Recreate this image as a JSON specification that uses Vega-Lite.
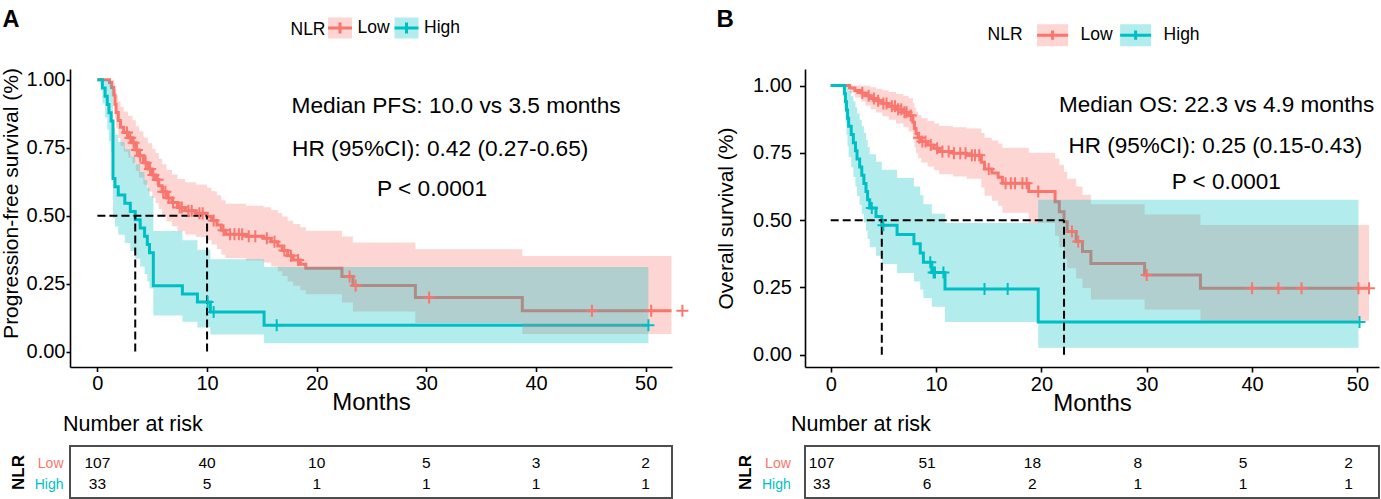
{
  "$schema": "https://vega.github.io/schema/vega-lite/v6.json",
  "background": "white",
  "padding": {"left": 0, "top": 7, "right": 0, "bottom": 0},
  "bounds": "flush",
  "columns": 2,
  "spacing": {"row": 79, "column": 133},
  "resolve": {"scale": {"x": "independent", "y": "independent", "color": "independent", "fill": "independent"}, "legend": {"color": "independent"}},
  "config": {
    "view": {"stroke": null},
    "font": "Liberation Sans",
    "axis": {"grid": false, "labelColor": "black", "titleColor": "black", "domainColor": "black", "tickColor": "black", "titleFontWeight": "normal", "labelFont": "Liberation Sans", "titleFont": "Liberation Sans", "domainWidth": 1.6, "tickWidth": 1.6, "labelFlush": false},
    "text": {"font": "Liberation Sans"},
    "title": {"font": "Liberation Sans", "color": "black"}
  },
  "datasets": {
    "kmA": [
      {"g":"Low","t":0,"s":1,"lo":1,"hi":1},{"g":"Low","t":1.1,"s":0.99,"lo":0.9714,"hi":1},{"g":"Low","t":1.3,"s":0.972,"lo":0.9414,"hi":1},{"g":"Low","t":1.5,"s":0.944,"lo":0.9017,"hi":0.9883},{"g":"Low","t":1.6,"s":0.91,"lo":0.8577,"hi":0.9655},{"g":"Low","t":1.7,"s":0.88,"lo":0.821,"hi":0.9432},{"g":"Low","t":1.9,"s":0.85,"lo":0.7856,"hi":0.9197},{"g":"Low","t":2.1,"s":0.825,"lo":0.7567,"hi":0.8994},{"g":"Low","t":2.4,"s":0.806,"lo":0.7352,"hi":0.8837},{"g":"Low","t":2.8,"s":0.787,"lo":0.7138,"hi":0.8676},{"g":"Low","t":3.2,"s":0.768,"lo":0.6927,"hi":0.8514},{"g":"Low","t":3.5,"s":0.742,"lo":0.6642,"hi":0.8289},{"g":"Low","t":3.8,"s":0.72,"lo":0.6403,"hi":0.8096},{"g":"Low","t":4.2,"s":0.695,"lo":0.6135,"hi":0.7873},{"g":"Low","t":4.6,"s":0.672,"lo":0.589,"hi":0.7666},{"g":"Low","t":5.0,"s":0.65,"lo":0.5659,"hi":0.7466},{"g":"Low","t":5.3,"s":0.632,"lo":0.547,"hi":0.7302},{"g":"Low","t":5.6,"s":0.61,"lo":0.5242,"hi":0.7098},{"g":"Low","t":5.9,"s":0.588,"lo":0.5016,"hi":0.6893},{"g":"Low","t":6.3,"s":0.565,"lo":0.4782,"hi":0.6676},{"g":"Low","t":6.8,"s":0.548,"lo":0.4609,"hi":0.6515},{"g":"Low","t":7.3,"s":0.53,"lo":0.4427,"hi":0.6345},{"g":"Low","t":8.0,"s":0.518,"lo":0.4306,"hi":0.6231},{"g":"Low","t":9.0,"s":0.509,"lo":0.4215,"hi":0.6147},{"g":"Low","t":10.0,"s":0.497,"lo":0.4091,"hi":0.6038},{"g":"Low","t":10.4,"s":0.482,"lo":0.3938,"hi":0.59},{"g":"Low","t":10.9,"s":0.466,"lo":0.3775,"hi":0.5753},{"g":"Low","t":11.3,"s":0.446,"lo":0.3573,"hi":0.5568},{"g":"Low","t":11.7,"s":0.432,"lo":0.3432,"hi":0.5437},{"g":"Low","t":13.55,"s":0.424,"lo":0.335,"hi":0.5367},{"g":"Low","t":15.15,"s":0.417,"lo":0.3274,"hi":0.5311},{"g":"Low","t":15.85,"s":0.404,"lo":0.3132,"hi":0.5212},{"g":"Low","t":16.45,"s":0.388,"lo":0.2956,"hi":0.5093},{"g":"Low","t":16.85,"s":0.372,"lo":0.2783,"hi":0.4972},{"g":"Low","t":17.35,"s":0.352,"lo":0.2573,"hi":0.4816},{"g":"Low","t":17.85,"s":0.337,"lo":0.2418,"hi":0.4697},{"g":"Low","t":18.5,"s":0.321,"lo":0.2255,"hi":0.4569},{"g":"Low","t":19.0,"s":0.306,"lo":0.2105,"hi":0.4448},{"g":"Low","t":22.3,"s":0.276,"lo":0.1801,"hi":0.4231},{"g":"Low","t":23.3,"s":0.243,"lo":0.1472,"hi":0.4011},{"g":"Low","t":29.0,"s":0.199,"lo":0.1052,"hi":0.3765},{"g":"Low","t":38.75,"s":0.15,"lo":0.064,"hi":0.3518},{"g":"Low","t":52.35,"s":0.15,"lo":0.064,"hi":0.3518},
      {"g":"High","t":0,"s":1,"lo":1,"hi":1},{"g":"High","t":0.45,"s":0.9697,"lo":0.9129,"hi":1},{"g":"High","t":0.7,"s":0.9394,"lo":0.8614,"hi":1},{"g":"High","t":0.9,"s":0.9091,"lo":0.8161,"hi":1},{"g":"High","t":1.05,"s":0.8788,"lo":0.7742,"hi":0.9975},{"g":"High","t":1.25,"s":0.8485,"lo":0.7346,"hi":0.9801},{"g":"High","t":1.42,"s":0.6364,"lo":0.4918,"hi":0.8235},{"g":"High","t":1.6,"s":0.6061,"lo":0.4603,"hi":0.798},{"g":"High","t":1.9,"s":0.5758,"lo":0.4296,"hi":0.7717},{"g":"High","t":2.5,"s":0.5455,"lo":0.3995,"hi":0.7448},{"g":"High","t":3.0,"s":0.5152,"lo":0.37,"hi":0.7173},{"g":"High","t":3.45,"s":0.4848,"lo":0.3411,"hi":0.6892},{"g":"High","t":3.9,"s":0.4545,"lo":0.3128,"hi":0.6606},{"g":"High","t":4.3,"s":0.4242,"lo":0.2851,"hi":0.6313},{"g":"High","t":4.55,"s":0.3939,"lo":0.258,"hi":0.6015},{"g":"High","t":4.75,"s":0.3636,"lo":0.2316,"hi":0.571},{"g":"High","t":5.1,"s":0.2424,"lo":0.1326,"hi":0.4431},{"g":"High","t":7.75,"s":0.2121,"lo":0.1099,"hi":0.4094},{"g":"High","t":9.12,"s":0.1818,"lo":0.0882,"hi":0.3749},{"g":"High","t":10.3,"s":0.1455,"lo":0.0624,"hi":0.3391},{"g":"High","t":15.2,"s":0.097,"lo":0.0303,"hi":0.3108},{"g":"High","t":50.25,"s":0.097,"lo":0.0303,"hi":0.3108}
    ],
    "censA": [
      {"g":"Low","t":2.7,"s":0.806},{"g":"Low","t":3.0,"s":0.787},{"g":"Low","t":3.3,"s":0.768},{"g":"Low","t":3.6,"s":0.742},{"g":"Low","t":3.9,"s":0.72},{"g":"Low","t":4.4,"s":0.695},{"g":"Low","t":4.8,"s":0.672},{"g":"Low","t":5.1,"s":0.65},{"g":"Low","t":5.5,"s":0.632},{"g":"Low","t":6.0,"s":0.588},{"g":"Low","t":6.2,"s":0.588},{"g":"Low","t":6.5,"s":0.565},{"g":"Low","t":6.9,"s":0.548},{"g":"Low","t":7.5,"s":0.53},{"g":"Low","t":7.7,"s":0.53},{"g":"Low","t":8.3,"s":0.518},{"g":"Low","t":8.6,"s":0.518},{"g":"Low","t":9.3,"s":0.509},{"g":"Low","t":9.6,"s":0.509},{"g":"Low","t":10.6,"s":0.482},{"g":"Low","t":11.5,"s":0.446},{"g":"Low","t":12.1,"s":0.432},{"g":"Low","t":12.5,"s":0.432},{"g":"Low","t":12.9,"s":0.432},{"g":"Low","t":13.2,"s":0.432},{"g":"Low","t":13.8,"s":0.424},{"g":"Low","t":14.4,"s":0.424},{"g":"Low","t":15.45,"s":0.417},{"g":"Low","t":16.15,"s":0.404},{"g":"Low","t":17.05,"s":0.372},{"g":"Low","t":17.65,"s":0.352},{"g":"Low","t":18.3,"s":0.337},{"g":"Low","t":23.0,"s":0.276},{"g":"Low","t":23.55,"s":0.243},{"g":"Low","t":30.25,"s":0.199},{"g":"Low","t":45.1,"s":0.15},{"g":"Low","t":50.5,"s":0.15},{"g":"Low","t":53.35,"s":0.15},
      {"g":"High","t":10.05,"s":0.1818},{"g":"High","t":10.6,"s":0.1455},{"g":"High","t":16.35,"s":0.097},{"g":"High","t":50.25,"s":0.097}
    ],
    "medA": [
      {"t":0,"s":0.5,"t2":10.0,"s2":0.5},{"t":3.45,"s":0,"t2":3.45,"s2":0.5},{"t":10.0,"s":0,"t2":10.0,"s2":0.5}
    ],
    "annA": [
      {"t":17.7,"s":0.877,"label":"Median PFS: 10.0 vs 3.5 months"},{"t":17.75,"s":0.718,"label":"HR (95%CI): 0.42 (0.27-0.65)"},{"t":25.5,"s":0.5705,"label":"P < 0.0001"}
    ],
    "riskA": [
      {"g":"Low","t":0,"n":107},{"g":"Low","t":10,"n":40},{"g":"Low","t":20,"n":10},{"g":"Low","t":30,"n":5},{"g":"Low","t":40,"n":3},{"g":"Low","t":50,"n":2},
      {"g":"High","t":0,"n":33},{"g":"High","t":10,"n":5},{"g":"High","t":20,"n":1},{"g":"High","t":30,"n":1},{"g":"High","t":40,"n":1},{"g":"High","t":50,"n":1}
    ],
    "kmB": [
      {"g":"Low","t":0,"s":1,"lo":1,"hi":1},{"g":"Low","t":1.8,"s":0.991,"lo":0.9729,"hi":1},{"g":"Low","t":2.3,"s":0.981,"lo":0.9552,"hi":1},{"g":"Low","t":2.9,"s":0.972,"lo":0.941,"hi":1},{"g":"Low","t":3.3,"s":0.962,"lo":0.9262,"hi":0.9992},{"g":"Low","t":3.8,"s":0.952,"lo":0.9121,"hi":0.9937},{"g":"Low","t":4.3,"s":0.943,"lo":0.8997,"hi":0.9884},{"g":"Low","t":4.9,"s":0.933,"lo":0.8863,"hi":0.9822},{"g":"Low","t":5.5,"s":0.923,"lo":0.8731,"hi":0.9757},{"g":"Low","t":6.2,"s":0.912,"lo":0.8588,"hi":0.9685},{"g":"Low","t":6.9,"s":0.901,"lo":0.8447,"hi":0.961},{"g":"Low","t":7.4,"s":0.889,"lo":0.8296,"hi":0.9527},{"g":"Low","t":7.8,"s":0.864,"lo":0.7987,"hi":0.9346},{"g":"Low","t":7.95,"s":0.84,"lo":0.7699,"hi":0.9165},{"g":"Low","t":8.1,"s":0.822,"lo":0.7487,"hi":0.9025},{"g":"Low","t":8.3,"s":0.806,"lo":0.7301,"hi":0.8898},{"g":"Low","t":8.6,"s":0.792,"lo":0.714,"hi":0.8785},{"g":"Low","t":9.2,"s":0.779,"lo":0.6989,"hi":0.8682},{"g":"Low","t":9.8,"s":0.767,"lo":0.6849,"hi":0.859},{"g":"Low","t":10.3,"s":0.755,"lo":0.6706,"hi":0.85},{"g":"Low","t":11.6,"s":0.748,"lo":0.6621,"hi":0.8451},{"g":"Low","t":12.9,"s":0.741,"lo":0.6534,"hi":0.8403},{"g":"Low","t":14.3,"s":0.715,"lo":0.621,"hi":0.8232},{"g":"Low","t":14.6,"s":0.69,"lo":0.5905,"hi":0.8063},{"g":"Low","t":15.3,"s":0.675,"lo":0.5723,"hi":0.7961},{"g":"Low","t":15.9,"s":0.659,"lo":0.5532,"hi":0.785},{"g":"Low","t":16.3,"s":0.637,"lo":0.5274,"hi":0.7693},{"g":"Low","t":18.8,"s":0.606,"lo":0.4894,"hi":0.7504},{"g":"Low","t":21.3,"s":0.568,"lo":0.4425,"hi":0.729},{"g":"Low","t":21.7,"s":0.531,"lo":0.3996,"hi":0.7055},{"g":"Low","t":22.15,"s":0.494,"lo":0.3589,"hi":0.68},{"g":"Low","t":22.45,"s":0.458,"lo":0.321,"hi":0.6535},{"g":"Low","t":23.3,"s":0.421,"lo":0.2837,"hi":0.6247},{"g":"Low","t":23.9,"s":0.384,"lo":0.248,"hi":0.5945},{"g":"Low","t":24.7,"s":0.339,"lo":0.2054,"hi":0.5594},{"g":"Low","t":29.8,"s":0.296,"lo":0.1682,"hi":0.521},{"g":"Low","t":35.1,"s":0.247,"lo":0.1265,"hi":0.4822},{"g":"Low","t":51.1,"s":0.247,"lo":0.1265,"hi":0.4822},
      {"g":"High","t":0,"s":1,"lo":1,"hi":1},{"g":"High","t":1.3,"s":0.9697,"lo":0.9129,"hi":1},{"g":"High","t":1.4,"s":0.9394,"lo":0.8614,"hi":1},{"g":"High","t":1.5,"s":0.9091,"lo":0.8161,"hi":1},{"g":"High","t":1.6,"s":0.8788,"lo":0.7742,"hi":0.9975},{"g":"High","t":1.7,"s":0.8485,"lo":0.7346,"hi":0.9801},{"g":"High","t":1.95,"s":0.8182,"lo":0.6966,"hi":0.961},{"g":"High","t":2.15,"s":0.7879,"lo":0.66,"hi":0.9405},{"g":"High","t":2.35,"s":0.7576,"lo":0.6246,"hi":0.9189},{"g":"High","t":2.5,"s":0.7273,"lo":0.5901,"hi":0.8963},{"g":"High","t":2.75,"s":0.697,"lo":0.5566,"hi":0.8729},{"g":"High","t":2.95,"s":0.6667,"lo":0.5237,"hi":0.8486},{"g":"High","t":3.15,"s":0.6364,"lo":0.4917,"hi":0.8237},{"g":"High","t":3.35,"s":0.6061,"lo":0.4603,"hi":0.798},{"g":"High","t":3.5,"s":0.5758,"lo":0.4296,"hi":0.7717},{"g":"High","t":3.7,"s":0.5455,"lo":0.3995,"hi":0.7448},{"g":"High","t":4.3,"s":0.5134,"lo":0.3678,"hi":0.7166},{"g":"High","t":4.85,"s":0.4813,"lo":0.3369,"hi":0.6875},{"g":"High","t":6.3,"s":0.4469,"lo":0.3041,"hi":0.6568},{"g":"High","t":7.9,"s":0.4125,"lo":0.2722,"hi":0.6252},{"g":"High","t":8.5,"s":0.3781,"lo":0.2412,"hi":0.5926},{"g":"High","t":8.8,"s":0.3438,"lo":0.2113,"hi":0.5594},{"g":"High","t":9.6,"s":0.3056,"lo":0.1783,"hi":0.5237},{"g":"High","t":10.85,"s":0.2445,"lo":0.1221,"hi":0.4897},{"g":"High","t":19.7,"s":0.1222,"lo":0.0259,"hi":0.5759},{"g":"High","t":50.1,"s":0.1222,"lo":0.0259,"hi":0.5759}
    ],
    "censB": [
      {"g":"Low","t":3.0,"s":0.972},{"g":"Low","t":3.6,"s":0.962},{"g":"Low","t":4.1,"s":0.952},{"g":"Low","t":4.5,"s":0.943},{"g":"Low","t":5.0,"s":0.933},{"g":"Low","t":5.3,"s":0.933},{"g":"Low","t":5.8,"s":0.923},{"g":"Low","t":6.1,"s":0.923},{"g":"Low","t":6.4,"s":0.912},{"g":"Low","t":6.7,"s":0.912},{"g":"Low","t":7.0,"s":0.901},{"g":"Low","t":7.2,"s":0.901},{"g":"Low","t":7.6,"s":0.889},{"g":"Low","t":8.4,"s":0.806},{"g":"Low","t":8.7,"s":0.792},{"g":"Low","t":9.0,"s":0.792},{"g":"Low","t":9.5,"s":0.779},{"g":"Low","t":10.1,"s":0.767},{"g":"Low","t":10.6,"s":0.755},{"g":"Low","t":11.2,"s":0.755},{"g":"Low","t":11.7,"s":0.748},{"g":"Low","t":12.3,"s":0.748},{"g":"Low","t":12.8,"s":0.748},{"g":"Low","t":13.4,"s":0.741},{"g":"Low","t":13.7,"s":0.741},{"g":"Low","t":14.1,"s":0.741},{"g":"Low","t":15.0,"s":0.69},{"g":"Low","t":16.6,"s":0.637},{"g":"Low","t":17.1,"s":0.637},{"g":"Low","t":17.5,"s":0.637},{"g":"Low","t":18.2,"s":0.637},{"g":"Low","t":18.6,"s":0.637},{"g":"Low","t":19.7,"s":0.606},{"g":"Low","t":22.9,"s":0.458},{"g":"Low","t":23.5,"s":0.421},{"g":"Low","t":30.0,"s":0.296},{"g":"Low","t":40.0,"s":0.247},{"g":"Low","t":42.5,"s":0.247},{"g":"Low","t":44.7,"s":0.247},{"g":"Low","t":50.1,"s":0.247},{"g":"Low","t":51.1,"s":0.247},
      {"g":"High","t":3.9,"s":0.5455},{"g":"High","t":5.0,"s":0.4813},{"g":"High","t":9.45,"s":0.3438},{"g":"High","t":9.77,"s":0.3056},{"g":"High","t":9.9,"s":0.3056},{"g":"High","t":10.7,"s":0.3056},{"g":"High","t":14.6,"s":0.2445},{"g":"High","t":16.8,"s":0.2445},{"g":"High","t":50.2,"s":0.1222}
    ],
    "medB": [
      {"t":0,"s":0.5,"t2":22.15,"s2":0.5},{"t":4.85,"s":0,"t2":4.85,"s2":0.5},{"t":22.15,"s":0,"t2":22.15,"s2":0.5}
    ],
    "annB": [
      {"t":21.68,"s":0.9034,"label":"Median OS: 22.3 vs 4.9 months"},{"t":22.57,"s":0.7486,"label":"HR (95%CI): 0.25 (0.15-0.43)"},{"t":32.37,"s":0.6164,"label":"P < 0.0001"}
    ],
    "riskB": [
      {"g":"Low","t":0,"n":107},{"g":"Low","t":10,"n":51},{"g":"Low","t":20,"n":18},{"g":"Low","t":30,"n":8},{"g":"Low","t":40,"n":5},{"g":"Low","t":50,"n":2},
      {"g":"High","t":0,"n":33},{"g":"High","t":10,"n":6},{"g":"High","t":20,"n":2},{"g":"High","t":30,"n":1},{"g":"High","t":40,"n":1},{"g":"High","t":50,"n":1}
    ]
  },
  "concat": [
    {
      "width": 602,
      "height": 298,
      "title": {"text": "A", "anchor": "start", "frame": "bounds", "fontSize": 23.5, "fontWeight": "bold", "baseline": "alphabetic", "offset": -35.5, "dx": 2},
      "encoding": {
        "x": {"field": "t", "type": "quantitative", "scale": {"domain": [-2.5, 52.4], "nice": false, "zero": false},
          "axis": {"values": [0, 10, 20, 30, 40, 50], "title": "Months", "titleFontSize": 24, "labelFontSize": 20, "tickSize": 4.5, "labelPadding": 2, "titlePadding": -3}},
        "y": {"field": "s", "type": "quantitative", "scale": {"domain": [-0.057, 1.0397], "nice": false, "zero": false},
          "axis": {"values": [0, 0.25, 0.5, 0.75, 1], "format": ".2f", "title": "Progression-free survival (%)", "titleFontSize": 21, "labelFontSize": 20, "tickSize": 4, "labelPadding": 1, "titlePadding": 4.5, "titleY": 134}}
      },
      "layer": [
        {"data": {"name": "kmA"}, "transform": [{"filter": "datum.g === 'Low'"}],
          "mark": {"type": "line", "interpolate": "step-after", "strokeWidth": 3},
          "encoding": {"color": {"field": "g", "type": "nominal", "scale": {"domain": ["Low", "High"], "range": ["#F8766D", "#00BFC4"]},
            "legend": {"orient": "none", "legendX": 220.5, "legendY": -54.5, "direction": "horizontal", "title": "NLR", "titleOrient": "left", "titleFontSize": 17.5, "titleFontWeight": "normal", "titleColor": "black", "labelFontSize": 17.5, "labelColor": "black",
              "symbolType": "M-1,0H1V0.875H-1V-0.875H1V0H0V-0.45V0.45", "symbolSize": 576, "symbolStrokeWidth": 3, "symbolDash": [24, 106, 12.2, 1000], "labelOffset": 4, "columnPadding": -2.5, "titlePadding": 0,
              "encode": {"symbols": {"update": {"fillOpacity": {"value": 0.3}, "strokeOpacity": {"value": 1}}}}}}}},
        {"data": {"name": "kmA"}, "transform": [{"filter": "datum.g === 'High'"}],
          "mark": {"type": "line", "interpolate": "step-after", "strokeWidth": 3},
          "encoding": {"color": {"field": "g", "type": "nominal"}}},
        {"data": {"name": "kmA"},
          "mark": {"type": "area", "interpolate": "step-after", "fillOpacity": 0.3},
          "encoding": {"y": {"field": "lo", "type": "quantitative", "title": "Progression-free survival (%)"}, "y2": {"field": "hi"},
            "fill": {"field": "g", "type": "nominal", "scale": {"domain": ["Low", "High"], "range": ["#F8766D", "#00BFC4"]}, "legend": null}}},
        {"data": {"name": "medA"},
          "mark": {"type": "rule", "strokeDash": [8, 4], "strokeWidth": 2, "color": "black"},
          "encoding": {"x2": {"field": "t2"}, "y2": {"field": "s2"}}},
        {"data": {"name": "censA"},
          "mark": {"type": "point", "shape": "M-1,0H1M0,-1V1", "filled": false, "size": 144, "strokeWidth": 2, "opacity": 1},
          "encoding": {"color": {"field": "g", "type": "nominal"}}},
        {"data": {"name": "annA"},
          "mark": {"type": "text", "align": "left", "baseline": "alphabetic", "fontSize": 22.7, "color": "black"},
          "encoding": {"text": {"field": "label"}}}
      ]
    },
    {
      "width": 574,
      "height": 298,
      "title": {"text": "B", "anchor": "start", "frame": "bounds", "fontSize": 24, "fontWeight": "bold", "baseline": "alphabetic", "offset": -32.8, "dx": 1.5},
      "encoding": {
        "x": {"field": "t", "type": "quantitative", "scale": {"domain": [-2.44, 52.05], "nice": false, "zero": false},
          "axis": {"values": [0, 10, 20, 30, 40, 50], "title": "Months", "titleFontSize": 24, "labelFontSize": 20, "tickSize": 5, "labelPadding": 2, "titlePadding": -3}},
        "y": {"field": "s", "type": "quantitative", "scale": {"domain": [-0.0453, 1.0613], "nice": false, "zero": false},
          "axis": {"values": [0, 0.25, 0.5, 0.75, 1], "format": ".2f", "title": "Overall survival (%)", "titleFontSize": 21, "labelFontSize": 20, "tickSize": 5.5, "labelPadding": 8, "titlePadding": 16.5}}
      },
      "layer": [
        {"data": {"name": "kmB"}, "transform": [{"filter": "datum.g === 'Low'"}],
          "mark": {"type": "line", "interpolate": "step-after", "strokeWidth": 3},
          "encoding": {"color": {"field": "g", "type": "nominal", "scale": {"domain": ["Low", "High"], "range": ["#F8766D", "#00BFC4"]},
            "legend": {"orient": "none", "legendX": 182.6, "legendY": -51.3, "direction": "horizontal", "title": "NLR", "titleOrient": "left", "titleFontSize": 17.5, "titleFontWeight": "normal", "titleColor": "black", "labelFontSize": 17.5, "labelColor": "black",
              "symbolType": "M-1,0H1V0.71H-1V-0.71H1V0H0V-0.3V0.3", "symbolSize": 961, "symbolStrokeWidth": 3, "symbolDash": [31, 125, 10.5, 1000], "labelOffset": 11, "columnPadding": 0, "titlePadding": 12,
              "encode": {"symbols": {"update": {"fillOpacity": {"value": 0.3}, "strokeOpacity": {"value": 1}}}}}}}},
        {"data": {"name": "kmB"}, "transform": [{"filter": "datum.g === 'High'"}],
          "mark": {"type": "line", "interpolate": "step-after", "strokeWidth": 3},
          "encoding": {"color": {"field": "g", "type": "nominal"}}},
        {"data": {"name": "kmB"},
          "mark": {"type": "area", "interpolate": "step-after", "fillOpacity": 0.3},
          "encoding": {"y": {"field": "lo", "type": "quantitative", "title": "Overall survival (%)"}, "y2": {"field": "hi"},
            "fill": {"field": "g", "type": "nominal", "scale": {"domain": ["Low", "High"], "range": ["#F8766D", "#00BFC4"]}, "legend": null}}},
        {"data": {"name": "medB"},
          "mark": {"type": "rule", "strokeDash": [8, 4], "strokeWidth": 2, "color": "black"},
          "encoding": {"x2": {"field": "t2"}, "y2": {"field": "s2"}}},
        {"data": {"name": "censB"},
          "mark": {"type": "point", "shape": "M-1,0H1M0,-1V1", "filled": false, "size": 144, "strokeWidth": 2, "opacity": 1},
          "encoding": {"color": {"field": "g", "type": "nominal"}}},
        {"data": {"name": "annB"},
          "mark": {"type": "text", "align": "left", "baseline": "alphabetic", "fontSize": 22.5, "color": "black"},
          "encoding": {"text": {"field": "label"}}}
      ]
    },
    {
      "width": 602,
      "height": 52,
      "view": {"stroke": "#4d4d4d", "strokeWidth": 2},
      "title": {"text": "Number at risk", "anchor": "start", "frame": "group", "dx": -7, "fontSize": 21.5, "fontWeight": "normal", "baseline": "alphabetic", "offset": -6.6},
      "data": {"name": "riskA"},
      "mark": {"type": "text", "fontSize": 15.5, "color": "black"},
      "encoding": {
        "x": {"field": "t", "type": "quantitative", "scale": {"domain": [-2.5, 52.4], "nice": false, "zero": false}, "axis": null},
        "y": {"field": "g", "type": "nominal", "sort": ["Low", "High"], "scale": {"type": "point", "padding": 0.738, "align": 0.561},
          "axis": {"title": "NLR", "titleFontSize": 17, "titleFontWeight": "bold", "labelFontSize": 14, "labelPadding": 7, "ticks": false, "domain": false, "titlePadding": 7,
            "labelColor": {"condition": {"test": "datum.value === 'Low'", "value": "#F8766D"}, "value": "#00BFC4"}}},
        "text": {"field": "n", "type": "quantitative"}
      }
    },
    {
      "width": 574,
      "height": 52,
      "view": {"stroke": "#4d4d4d", "strokeWidth": 2},
      "title": {"text": "Number at risk", "anchor": "start", "frame": "group", "dx": -14, "fontSize": 21.5, "fontWeight": "normal", "baseline": "alphabetic", "offset": -6.6},
      "data": {"name": "riskB"},
      "mark": {"type": "text", "fontSize": 15.5, "color": "black"},
      "encoding": {
        "x": {"field": "t", "type": "quantitative", "scale": {"domain": [-1.585, 52.9], "nice": false, "zero": false}, "axis": null},
        "y": {"field": "g", "type": "nominal", "sort": ["Low", "High"], "scale": {"type": "point", "padding": 0.738, "align": 0.561},
          "axis": {"title": "NLR", "titleFontSize": 17, "titleFontWeight": "bold", "labelFontSize": 14, "labelPadding": 14.7, "ticks": false, "domain": false, "titlePadding": 7,
            "labelColor": {"condition": {"test": "datum.value === 'Low'", "value": "#F8766D"}, "value": "#00BFC4"}}},
        "text": {"field": "n", "type": "quantitative"}
      }
    }
  ]
}
